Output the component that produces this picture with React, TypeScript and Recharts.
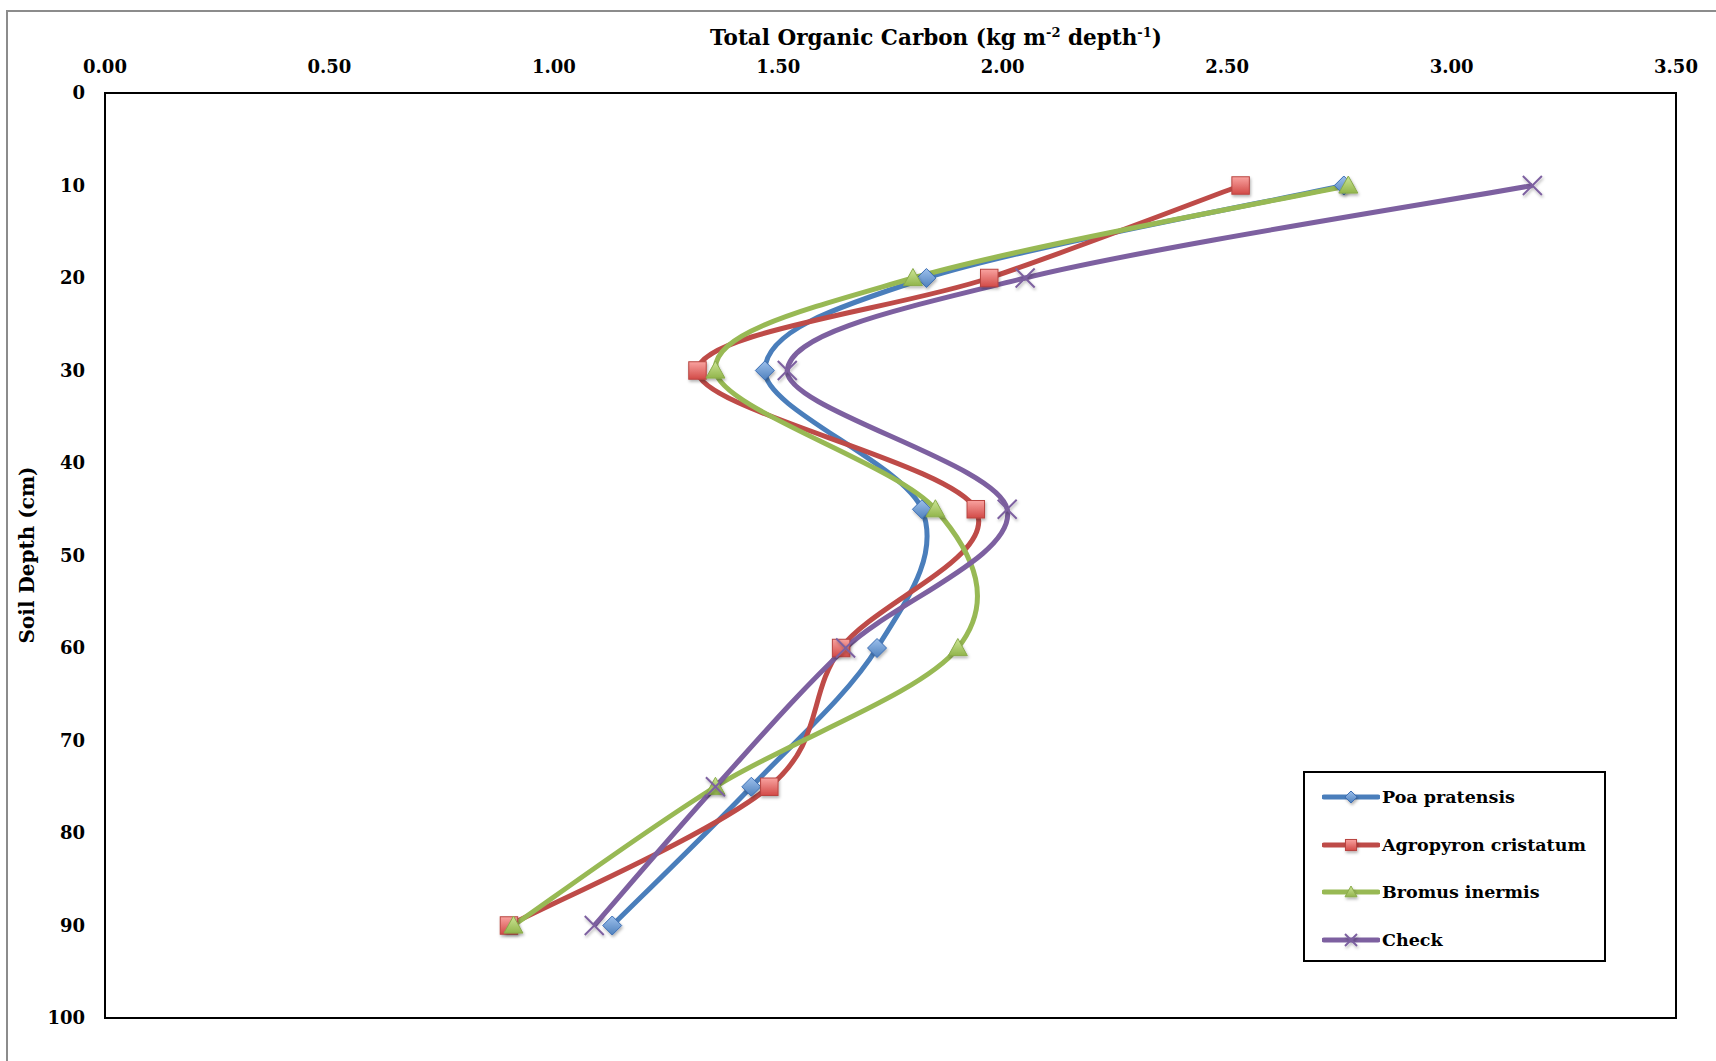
import { LineChart, Line, XAxis, YAxis, ReferenceArea, Label } from 'recharts';

const depths = [10, 20, 30, 45, 60, 75, 90];
const poaPratensis = [2.76, 1.83, 1.47, 1.82, 1.72, 1.44, 1.13];
const agropyronCristatum = [2.53, 1.97, 1.32, 1.94, 1.64, 1.48, 0.9];
const bromusInermis = [2.77, 1.8, 1.36, 1.85, 1.9, 1.36, 0.91];
const check = [3.18, 2.05, 1.52, 2.01, 1.65, 1.36, 1.09];

const xTicks = [0, 0.5, 1, 1.5, 2, 2.5, 3, 3.5];
const yTicks = [0, 10, 20, 30, 40, 50, 60, 70, 80, 90, 100];

const data = depths.map((depth, i) => ({
  depth,
  poa: poaPratensis[i],
  agro: agropyronCristatum[i],
  bromus: bromusInermis[i],
  check: check[i],
}));

const FONT = '"DejaVu Serif", serif';

// excel-like smoothed line (catmull-rom as bezier)
function excelSmooth(context: any) {
  let pts: [number, number][] = [];
  return {
    areaStart() {},
    areaEnd() {},
    lineStart() {
      pts = [];
    },
    point(x: number, y: number) {
      pts.push([+x, +y]);
    },
    lineEnd() {
      if (!pts.length) return;
      context.moveTo(pts[0][0], pts[0][1]);
      for (let i = 0; i < pts.length - 1; i++) {
        const p0 = pts[Math.max(i - 1, 0)];
        const p1 = pts[i];
        const p2 = pts[i + 1];
        const p3 = pts[Math.min(i + 2, pts.length - 1)];
        context.bezierCurveTo(
          p1[0] + (p2[0] - p0[0]) / 6,
          p1[1] + (p2[1] - p0[1]) / 6,
          p2[0] - (p3[0] - p1[0]) / 6,
          p2[1] - (p3[1] - p1[1]) / 6,
          p2[0],
          p2[1]
        );
      }
    },
  };
}

const series = [
  { key: 'poa', name: 'Poa pratensis', color: '#4A7EBB', shape: 'diamond' },
  { key: 'agro', name: 'Agropyron cristatum', color: '#BE4B48', shape: 'square' },
  { key: 'bromus', name: 'Bromus inermis', color: '#98B954', shape: 'triangle' },
  { key: 'check', name: 'Check', color: '#7D60A0', shape: 'x' },
];

function Marker({ shape, cx, cy, s = 19 }: { shape: string; cx: number; cy: number; s?: number }) {
  const h = s / 2;
  if (shape === 'diamond') {
    return (
      <polygon
        points={`${cx},${cy - h} ${cx + h},${cy} ${cx},${cy + h} ${cx - h},${cy}`}
        fill="url(#gBlue)"
        stroke="#3C6EB4"
        strokeWidth={1}
        filter="url(#mshadow)"
      />
    );
  }
  if (shape === 'square') {
    const a = h * 0.92;
    return (
      <rect x={cx - a} y={cy - a} width={a * 2} height={a * 2} fill="url(#gRed)" stroke="#B84541" strokeWidth={1} filter="url(#mshadow)" />
    );
  }
  if (shape === 'triangle') {
    return (
      <polygon
        points={`${cx},${cy - h} ${cx + h},${cy + h * 0.8} ${cx - h},${cy + h * 0.8}`}
        fill="url(#gGreen)"
        stroke="#8AAB4B"
        strokeWidth={1}
        filter="url(#mshadow)"
      />
    );
  }
  return (
    <g stroke="#7D60A0" strokeWidth={2} filter="url(#mshadow)">
      <line x1={cx - h} y1={cy - h} x2={cx + h} y2={cy + h} />
      <line x1={cx - h} y1={cy + h} x2={cx + h} y2={cy - h} />
    </g>
  );
}

function makeDot(shape: string) {
  return (props: any) => {
    const { cx, cy, index } = props;
    if (cx == null || cy == null) return <g key={index} />;
    return (
      <g key={index}>
        <Marker shape={shape} cx={cx} cy={cy} />
      </g>
    );
  };
}

function LegendBox() {
  return (
    <div
      style={{
        position: 'absolute',
        left: 1303,
        top: 771,
        width: 299,
        height: 187,
        border: '2px solid #000',
        background: '#fff',
        fontFamily: FONT,
      }}
    >
      {series.map((s, i) => (
        <div key={s.key} style={{ position: 'absolute', left: 17, top: 11 + i * 47.7, height: 26, display: 'flex', alignItems: 'center' }}>
          <svg width={58} height={26}>
            <line x1={2} y1={13} x2={56} y2={13} stroke={s.color} strokeWidth={5} strokeLinecap="round" />
            <Marker shape={s.shape} cx={29} cy={13} s={12} />
          </svg>
          <span style={{ fontWeight: 'bold', fontSize: 17.5, color: '#000', marginLeft: 2, whiteSpace: 'nowrap' }}>{s.name}</span>
        </div>
      ))}
    </div>
  );
}

export default function App() {
  return (
    <div style={{ position: 'absolute', left: 0, top: 0, width: 1716, height: 1061, background: '#fff', overflow: 'hidden' }}>
      <div style={{ position: 'absolute', left: 6, top: 10, right: -4, bottom: -4, borderLeft: '2px solid #8c8c8c', borderTop: '2px solid #8c8c8c' }} />
      <svg width={0} height={0} style={{ position: 'absolute' }}>
        <defs>
          <linearGradient id="gBlue" x1="0" y1="0" x2="0" y2="1">
            <stop offset="0%" stopColor="#9DC0EC" />
            <stop offset="100%" stopColor="#4F81BD" />
          </linearGradient>
          <linearGradient id="gRed" x1="0" y1="0" x2="0" y2="1">
            <stop offset="0%" stopColor="#F9A3A0" />
            <stop offset="100%" stopColor="#D24A47" />
          </linearGradient>
          <linearGradient id="gGreen" x1="0" y1="0" x2="0" y2="1">
            <stop offset="0%" stopColor="#CDE696" />
            <stop offset="100%" stopColor="#92B54C" />
          </linearGradient>
          <filter id="mshadow" x="-50%" y="-50%" width="200%" height="200%">
            <feDropShadow dx="1" dy="2" stdDeviation="1.5" floodColor="#000" floodOpacity="0.3" />
          </filter>
        </defs>
      </svg>
      <div style={{ position: 'absolute', left: 0, top: 0 }}>
        <LineChart
          width={1716}
          height={1061}
          data={data}
          layout="vertical"
          margin={{ top: 0, right: 40, bottom: 43, left: 0 }}
          style={{ fontFamily: FONT }}
        >
          <XAxis
            type="number"
            orientation="top"
            domain={[0, 3.5]}
            ticks={xTicks}
            tickFormatter={(v: number) => v.toFixed(2)}
            height={93}
            axisLine={false}
            tickLine={false}
            tickSize={0}
            tickMargin={20}
            tick={{ fill: '#000', fontSize: 18, fontWeight: 'bold', fontFamily: FONT }}
            interval={0}
          >
            <Label
              content={() => (
                <text x={936} y={45} textAnchor="middle" fontFamily={FONT} fontWeight="bold" fontSize={21.5} fill="#000">
                  Total Organic Carbon (kg m
                  <tspan dy={-8} fontSize={13}>-2</tspan>
                  <tspan dy={8}> depth</tspan>
                  <tspan dy={-8} fontSize={13}>-1</tspan>
                  <tspan dy={8}>)</tspan>
                </text>
              )}
            />
          </XAxis>
          <YAxis
            type="number"
            dataKey="depth"
            domain={[0, 100]}
            ticks={yTicks}
            width={105}
            axisLine={false}
            tickLine={false}
            tickSize={0}
            tickMargin={20}
            tick={{ fill: '#000', fontSize: 18, fontWeight: 'bold', fontFamily: FONT }}
            interval={0}
          >
            <Label
              content={() => (
                <text
                  x={34}
                  y={555}
                  textAnchor="middle"
                  transform="rotate(-90 34 555)"
                  fontFamily={FONT}
                  fontWeight="bold"
                  fontSize={20}
                  fill="#000"
                >
                  Soil Depth (cm)
                </text>
              )}
            />
          </YAxis>
          <ReferenceArea x1={0} x2={3.5} y1={0} y2={100} fill="none" stroke="#000" strokeWidth={2} fillOpacity={0} />
          {series.map((s) => (
            <Line
              key={s.key}
              dataKey={s.key}
              name={s.name}
              type={excelSmooth as any}
              stroke={s.color}
              strokeWidth={5}
              dot={makeDot(s.shape)}
              activeDot={false}
              isAnimationActive={false}
            />
          ))}
        </LineChart>
      </div>
      <LegendBox />
    </div>
  );
}
